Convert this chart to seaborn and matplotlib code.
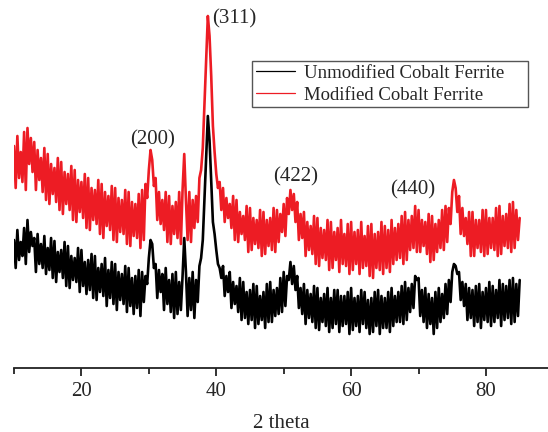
import numpy as np
import pandas as pd
import matplotlib
matplotlib.use("Agg")
import matplotlib.pyplot as plt
import seaborn as sns

# 2-theta grid, 0.25 deg bins from 10 to 85 (alternating high / low reading per bin)
two_theta = np.linspace(10, 85, 301)

# intensity (arbitrary units), one group of 4 per degree
unmodified = [
    128, 100, 138, 108,  126, 112, 140, 104,  148, 116, 136, 122,  130, 96, 134, 104,
    124, 100, 132, 94,   120, 98, 130, 90,    127, 86, 116, 96,    118, 90, 126, 82,
    122, 80, 112, 88,    110, 86, 120, 76,    118, 82, 106, 74,    108, 78, 114, 70,
    112, 68, 100, 76,    104, 72, 110, 62,    98, 70, 106, 64,     104, 58, 96, 68,
    94, 64, 102, 56,     100, 62, 90, 54,     92, 60, 98, 52,      96, 66, 92, 84,
    110, 128, 124, 100,  104, 70, 98, 76,     94, 58, 100, 64,     88, 56, 94, 50,
    96, 54, 86, 58,      92, 130, 96, 52,     90, 58, 96, 50,      88, 66, 102, 110,
    128, 170, 212, 252,  228, 186, 146, 134,  118, 104, 100, 90,   102, 72, 92, 76,
    96, 60, 86, 64,      82, 56, 90, 48,      86, 50, 76, 44,      78, 48, 84, 40,
    82, 44, 72, 48,      76, 40, 84, 46,      86, 46, 78, 52,      80, 54, 90, 56,
    96, 62, 92, 88,      106, 84, 102, 78,    92, 60, 80, 54,      84, 44, 78, 50,
    74, 46, 82, 40,      80, 38, 70, 46,      74, 42, 80, 36,      70, 40, 78, 44,
    78, 36, 72, 42,      72, 44, 76, 34,      80, 38, 70, 42,      72, 36, 78, 44,
    76, 40, 68, 34,      70, 36, 76, 42,      78, 34, 72, 40,      70, 40, 76, 36,
    80, 42, 72, 46,      76, 46, 82, 44,      86, 48, 80, 56,      84, 60, 92, 88,
    90, 52, 78, 46,      80, 40, 74, 44,      70, 34, 76, 40,      80, 46, 74, 50,
    84, 54, 88, 66,      96, 104, 102, 94,    96, 68, 86, 62,      84, 48, 80, 50,
    78, 42, 82, 46,      84, 40, 76, 48,      80, 46, 86, 42,      82, 46, 78, 50,
    88, 42, 84, 48,      82, 50, 88, 44,      90, 46, 84, 52,      88,
]

modified = [
    222, 180, 232, 190,  216, 186, 236, 178,  240, 204, 230, 196,  226, 178, 218, 188,
    210, 176, 220, 168,  214, 164, 204, 174,  200, 166, 210, 158,  206, 154, 196, 164,
    194, 158, 202, 148,  198, 146, 188, 156,  186, 150, 194, 140,  190, 138, 180, 148,
    178, 144, 188, 134,  184, 130, 176, 142,  172, 138, 182, 128,  180, 126, 170, 136,
    168, 134, 178, 124,  176, 122, 166, 132,  164, 130, 174, 120,  178, 128, 184, 170,
    198, 218, 208, 182,  190, 148, 176, 144,  168, 138, 176, 126,  172, 124, 162, 134,
    166, 130, 176, 124,  178, 214, 168, 128,  176, 126, 168, 140,  172, 146, 190, 198,
    220, 264, 308, 352,  332, 292, 242, 216,  194, 180, 186, 158,  180, 146, 170, 150,
    164, 140, 172, 128,  168, 126, 156, 134,  152, 128, 162, 116,  160, 118, 150, 124,
    148, 120, 158, 112,  156, 114, 148, 122,  150, 118, 160, 116,  158, 126, 154, 136,
    164, 132, 170, 154,  178, 158, 174, 146,  166, 128, 154, 130,  156, 112, 146, 118,
    142, 114, 152, 104,  150, 102, 140, 110,  138, 108, 148, 98,   146, 100, 136, 108,
    140, 96, 148, 104,   134, 102, 144, 94,   146, 98, 136, 104,   138, 94, 146, 100,
    132, 102, 142, 92,   144, 90, 134, 100,   136, 98, 146, 94,    142, 100, 138, 96,
    148, 104, 140, 108,  144, 110, 152, 104,  156, 108, 148, 118,  152, 120, 162, 116,
    158, 116, 148, 122,  146, 114, 154, 106,  152, 108, 144, 116,  148, 120, 158, 118,
    162, 126, 160, 144,  176, 188, 180, 156,  172, 134, 160, 132,  150, 124, 156, 112,
    156, 112, 148, 120,  148, 116, 158, 112,  158, 114, 150, 120,  150, 118, 160, 112,
    162, 114, 152, 122,  154, 120, 164, 116,  166, 120, 158, 128,  150,
]

peak_labels = ["(200)", "(311)", "(422)", "(440)"]
peak_pos = [(30.6, 228), (42.6, 349), (51.8, 191), (69.1, 178)]

assert len(unmodified) == len(two_theta) == len(modified)

df = pd.DataFrame({"two_theta": two_theta, "unmod": unmodified, "mod": modified})

sns.set_theme(style="ticks")
plt.rcParams["font.family"] = ["Liberation Serif", "DejaVu Serif"]

fig = plt.figure(figsize=(5.48, 4.32), dpi=100)
ax = fig.add_axes([14 / 548, 64 / 432, 534 / 548, 368 / 432])

# red drawn first, black on top
sns.lineplot(data=df, x="two_theta", y="mod", color="#ED1C24", linewidth=1.9,
             estimator=None, sort=False, ax=ax, label="Modified Cobalt Ferrite")
sns.lineplot(data=df, x="two_theta", y="unmod", color="black", linewidth=1.9,
             estimator=None, sort=False, ax=ax, label="Unmodified Cobalt Ferrite")

for txt, (px, py) in zip(peak_labels, peak_pos):
    ax.text(px, py, txt, fontsize=15, ha="center", va="center")

ax.set_xlim(10, 89.2)
ax.set_ylim(0, 368)
ax.set_xticks([20, 40, 60, 80])
ax.set_xticks([10, 30, 50, 70], minor=True)
ax.set_yticks([])
ax.tick_params(axis="x", which="major", length=6, width=1.3, labelsize=15, pad=4, color="#222222")
ax.tick_params(axis="x", which="minor", length=4, width=1.3, color="#222222")
for side in ["left", "top", "right"]:
    ax.spines[side].set_visible(False)
ax.spines["bottom"].set_linewidth(1.3)
ax.spines["bottom"].set_color("#222222")
ax.set_xlabel("2 theta", fontsize=15)
ax.set_ylabel("")
ax.xaxis.set_label_coords(0.5, -0.125)

handles, labels = ax.get_legend_handles_labels()
leg = ax.legend(handles[::-1], labels[::-1], loc="upper left", mode="expand",
                bbox_to_anchor=(252 / 548, 1 - 106 / 432, 276 / 548, 45 / 432),
                bbox_transform=fig.transFigure,
                fontsize=13.5, frameon=True, fancybox=False, framealpha=1,
                edgecolor="#555555", borderpad=0.2, labelspacing=0.25,
                handlelength=2.1, handletextpad=0.5, borderaxespad=0)
leg.get_frame().set_linewidth(1.0)
for line in leg.get_lines():
    line.set_linewidth(0.9)

fig.savefig("out.png", dpi=100)
